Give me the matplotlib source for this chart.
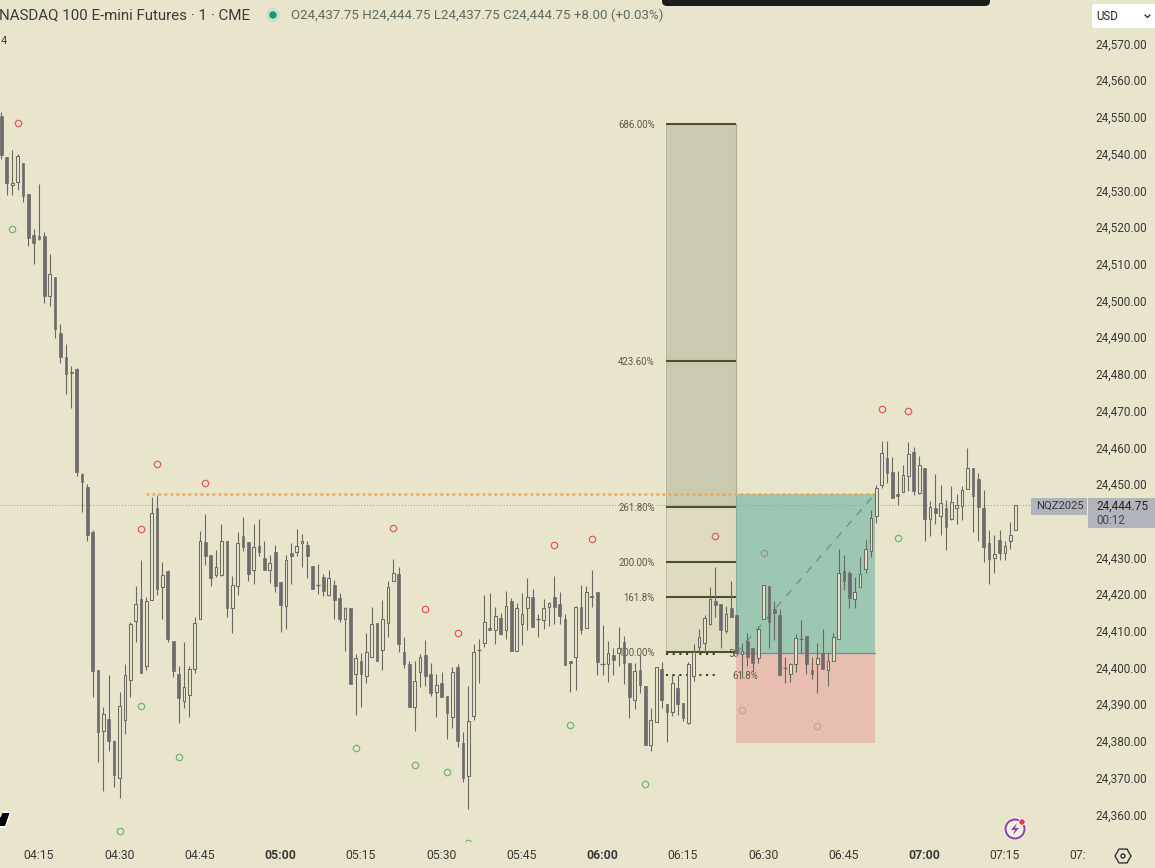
import numpy as np
import matplotlib
matplotlib.use('Agg')
import matplotlib.pyplot as plt
from matplotlib.patches import Rectangle, FancyBboxPatch, Circle, Polygon, RegularPolygon

BG = '#e9e4cc'
plt.rcParams['font.family'] = ['Roboto', 'DejaVu Sans']

BASE = 24000
START_MIN = 248  # first candle is 04:08

opens = [550.75,539.5,531.75,532.75,537.75,529.5,518.25,518,518,501.5,506.75,491.5,485,481,481.75,453.25,449.5,437.25,399.75,383,
         386.5,380.5,370.25,386.25,397,413,419,400.75,418.75,443.75,422.25,426.75,407.75,398.75,391.25,393,400,413.75,434.5,431,
         425.5,425.5,435,416.75,422.5,436.25,434.5,427,433.5,430.25,427,431.75,423.75,417.25,431.5,431.75,434.25,433.75,428,423,
         425,420.25,423,419.25,413.5,416.75,398.75,402.25,398,403.25,412.5,405.25,412.5,424,426,404.75,401.25,389.75,399.25,403.75,
         398.75,393.75,396.25,392.75,387,400.5,379.75,370.75,387.25,405.25,407,411.25,410.75,414,410.75,418.5,405,412.25,416.5,419.75,
         413.5,413.25,417,419.5,417.75,413.5,402.25,403.25,417,411.25,419.5,421,401.25,401.25,403.75,404.5,407.25,401.75,391.5,399.75,
         395.25,379.25,385.5,400,390.5,388.25,394.75,390.75,385.25,398,406,407,412.25,418.5,417.75,410.25,416.75,414.75,404,407.75,
         405.75,403,413.75,422.5,416.25,414.75,400.25,398.75,401.25,408.25,409,399.75,401.5,404.5,399.75,402.25,408.25,426.75,426.25,419,
         422.25,427.25,432.25,441.75,450,457.5,453.75,447.75,448.25,452.5,459.25,448,454.75,440.75,443.75,441.75,443.75,441,444,444.5,
         449,454.75,451.75,444,434.25,430.25,435.25,431.5,434.75,437.75]
highs = [551.75,539.5,541.5,540.25,537.75,529.5,520,532.25,519,513,506.75,494,488.5,482.5,482,453.5,450.5,438,399.75,389.75,
         398.25,380.75,393.75,401.25,412.75,422.5,429.75,419.75,446.75,447.5,429.25,427,407.75,400.75,407.25,400.75,414.25,437.5,442.25,431,
         432.5,439.5,435,425.25,437.25,441.5,434.5,439.5,440.75,434.75,431,433.75,423.75,431,434.25,438.25,436.75,434.75,428,428.5,
         426,427,424.25,420.75,417,416.75,404,404.5,409.75,417,412.5,418.75,424,430,427.75,408.75,402.25,402.25,404,408,
         401.75,398.75,399.25,392.75,400.5,401.25,382.75,395.5,406.75,408.25,420.25,420.75,417,415.25,421.25,419.25,418,420.75,424.75,421.75,
         415,419,418.25,425.25,421,415,402.25,417.25,423,422.75,427,421,412,407.75,405.75,411.5,409,401.75,401.75,403.75,
         395.25,389.25,400.5,402,390.5,398.75,398.25,390.75,402,406.75,411,414.75,422.25,427.75,417.75,417.25,424,414.75,407,409.75,
         405.75,411.5,423,422.5,418.5,416.25,403.25,401.75,409.5,413.25,409,403.25,407,411,404.5,409.75,432.75,431,426.75,425,
         430.5,435.25,443.25,450.25,462.25,462.25,457.75,454,455.5,461.75,460.5,458,454.75,445.75,453.25,450.25,446,449.75,447.75,449.75,
         460.25,454.75,453.5,448.75,438,436.5,438,434.75,440,444.75]
lows = [539,529,529,530.5,527.25,515.25,510.25,516.75,499.75,499,490.25,483.5,475,471,452.5,442.75,435,392.25,374.75,366.75,
        377.75,367.75,365,382.25,392.25,407.5,399,399.75,418.75,420.25,413.75,407.5,397.75,385.25,389.5,387,399,413.75,428.25,422.75,
        425,425.25,414.25,409.75,420.25,432.25,424,423.25,430.75,427,423.5,421,410,411,423.25,430.75,427.75,424.75,421.75,420.5,
        420,420,413.75,412.75,405,396,387.5,389.75,396.25,403.25,402.25,399.75,408.75,424,404.75,400.25,389.75,383,395,395.5,
        392.75,387,392.5,381,384,378.75,369.25,361.75,386.25,396.25,406,410.75,406.75,409.25,408.25,405,405,406.5,410.75,411.5,
        408.75,411,411.75,412.25,412.25,401,393.75,394.25,409.5,411.25,417,398.25,398.25,396.5,398.25,400.75,396,386.75,389,393.5,
        379.25,377.75,385.5,389.25,380.25,387.25,387.5,385.75,385,396.75,404.75,404.75,412,414.25,405.75,409.75,414.25,403.75,397.5,400.75,
        399.5,401.75,413.75,405.75,408,398.5,396.25,396.5,399.25,404.5,398.75,397.25,393.5,400,395.25,402.25,408.25,421.5,416.5,416.75,
        422.25,426.25,430.5,439.75,449.25,450.75,446.5,444.75,448.25,448.5,447.5,447.75,434.75,436.25,439.5,436.5,432.5,440.5,439.5,440.5,
        449,437.25,434.75,429.25,423.25,426.25,429.75,429.75,432.75,437.75]
closes = [540,532.5,532.5,539.75,528.75,517.5,516,517.25,501.75,507.5,492.75,485,480.5,480.75,453.75,451,436.5,399.5,382.75,387.75,
          380.5,371,390,398.5,412.25,417.75,399,418.5,442.5,421.75,425.5,408.25,399.5,392,395,400,412.5,434.75,430.75,424.75,
          427.75,435,416.5,423,434.25,433.25,426,433.25,432,427,428.75,422.5,417.5,429.75,430.75,433.5,435,430.75,421.75,423,
          421.25,424.75,418.75,413.75,416.5,396,403,398.75,404.75,412.25,402.25,413.75,422.25,426.25,406.75,401.25,389.75,396.75,403.25,398,
          393.5,395.75,392.5,388,399.25,380.5,370.25,385.75,404.75,405.25,412.75,410.75,414.5,409.5,417.25,405,416.5,415,419.5,411.5,
          413.5,416.5,418,417,414.5,401,401.75,417,410.75,421,420,402,401.25,404.25,402.5,405.75,401.75,392.25,399.5,395.75,
          379.25,386.25,400.5,391.5,388.25,396.25,390.5,386.75,401.25,404.75,408.75,414,419,417.5,410.75,415,414.25,404.25,405,403.25,
          401.75,411,423,412.75,415.25,398.5,400.25,401.25,408.5,408.25,401.25,398.75,403,400,402.25,408.75,426.25,424,419.25,421,
          426,432.75,441.25,449.25,458.75,453.5,446.5,447,452.75,458.5,448.5,455.5,441,444.25,442.5,445.25,438.75,445.5,444.75,448.75,
          454.75,447.25,444.25,433.25,430,431.25,431.5,433.5,436.5,444.75]

red_times = [251, 277, 286, 274, 321, 351, 358, 327, 333, 381, 390, 412, 417]
red_prices = [548.75, 455.85, 450.7, 438.15, 438.4, 433.8, 435.4, 416.35, 409.8, 436.25, 431.6, 470.85, 470.3]
green_times = [250, 274, 281, 270, 314, 325, 331, 354, 368, 335, 386, 400, 415]
green_prices = [519.85, 389.95, 376.05, 355.9, 378.5, 373.85, 371.95, 384.75, 368.7, 352.6, 388.85, 384.5, 435.7]

fib_levels = [548.5, 484, 444.25, 429.25, 419.75, 404.75]
fib_labels = ['686.00%', '423.60%', '261.80%', '200.00%', '161.8%', '100.00%']
price_ticks = [570, 560, 550, 540, 530, 520, 510, 500, 490, 480, 470, 460, 450, 430, 420, 410, 400, 390, 380, 370, 360]
time_ticks = [255, 270, 285, 300, 315, 330, 345, 360, 375, 390, 405, 420, 435]
time_labels = ['04:15', '04:30', '04:45', '05:00', '05:15', '05:30', '05:45', '06:00', '06:15', '06:30', '06:45', '07:00', '07:15']
bold_times = ['05:00', '06:00', '07:00']

target, entry, stop = 447.75, 404.25, 379.75
last_price = 444.75

opens = BASE + np.array(opens)
highs = BASE + np.array(highs)
lows = BASE + np.array(lows)
closes = BASE + np.array(closes)
times = START_MIN + np.arange(len(opens))

fig = plt.figure(figsize=(11.55, 8.68), dpi=100, facecolor=BG)
ax = fig.add_axes([0, 0, 1, 1], facecolor=BG)
ax.set_xlim(247.73, 462.94)
ax.set_ylim(24345.8, 24582.25)
ax.set_xticks([])
ax.set_yticks([])
for s in ax.spines.values():
    s.set_visible(False)

# fib tool
fib_l, fib_r, fib_stub = 371.8, 384.9, 381.1
b = BASE
ax.fill_between([fib_l, fib_r], b + fib_levels[2], b + fib_levels[0], color='#cbc9af', lw=0, zorder=1)
ax.fill_between([fib_l, fib_r], b + fib_levels[5], b + fib_levels[2], color='#dedbc0', lw=0, zorder=1)
ax.plot([fib_r, fib_r], [b + fib_levels[5], b + fib_levels[0]], color='#a9ad8c', lw=0.8, zorder=1)
ax.plot([fib_l, fib_l], [b + fib_levels[5], b + fib_levels[0]], color='#b5b79a', lw=0.6, zorder=1)
for lev, lab in zip(fib_levels, fib_labels):
    ax.plot([fib_l, fib_r], [b + lev, b + lev], color='#4d5029', lw=1.5, zorder=5, solid_capstyle='butt')
    ax.text(fib_l - 2.1, b + lev - 0.4, lab, ha='right', va='center', fontsize=6.9, color='#5a5a48', zorder=5)
ax.plot([fib_l, fib_stub], [b + 404.1, b + 404.1], color='#3e4122', lw=1.5, ls=(0, (1, 2.2)), zorder=5)
ax.plot([fib_l, fib_stub], [b + 398.4, b + 398.4], color='#3e4122', lw=1.5, ls=(0, (1, 2.2)), zorder=5)
ax.text(386.5, b + 398.2, '61.8%', ha='center', va='center', fontsize=6.9, color='#5a5a48', zorder=5)
ax.text(384.5, b + 404.0, '50', ha='center', va='center', fontsize=6.9, color='#5a5a48', zorder=3)

# swing markers, sit under the position zones
ax.plot(red_times, b + np.array(red_prices), ls='none', marker='o', ms=4.6, mfc='none', mec='#e5404f', mew=0.9, alpha=0.85, zorder=2)
ax.plot(green_times, b + np.array(green_prices), ls='none', marker='o', ms=4.6, mfc='none', mec='#58b25f', mew=0.9, alpha=0.85, zorder=2)

# long position
pos_l, pos_r = 384.9, 410.8
ax.fill_between([pos_l, pos_r], b + entry, b + target, color='#69b5a1', alpha=0.6, lw=0, zorder=3)
ax.fill_between([pos_l, pos_r], b + stop, b + entry, color='#e7a69d', alpha=0.6, lw=0, zorder=3)
ax.plot([pos_l, pos_r], [b + entry, b + entry], color='#7d8a80', lw=0.9, zorder=3)
ax.plot([pos_l, pos_r], [b + entry, b + target], color='#6f9c8a', lw=1.1, ls=(0, (5, 5)), zorder=3)

# lines
ax.plot([274.9, pos_r], [b + target, b + target], color='#f0a64a', lw=1.8, ls=(0, (1.1, 1.3)), zorder=4, dash_capstyle='butt')
ax.plot([times[0] - 1, 443.8], [b + last_price] * 2, color='#9c9c8c', lw=0.7, ls=(0, (1, 2)), zorder=1)

# candles
wick = '#6a6a64'
up = closes > opens
flat = closes == opens
ax.vlines(times, lows, highs, color=wick, lw=0.8, zorder=6)
body_low = np.minimum(opens, closes)
body_h = np.abs(closes - opens)
ax.bar(times[~up], body_h[~up], bottom=body_low[~up], width=0.5, color='#6c6c6c', edgecolor='#6c6c6c', lw=0.5, zorder=7)
ax.bar(times[up], body_h[up], bottom=body_low[up], width=0.5, color=BG, edgecolor='#6c6c64', lw=0.75, zorder=7)
ax.hlines(closes[flat], times[flat] - 0.4, times[flat] + 0.4, color=wick, lw=0.9, zorder=7)

# price axis labels
for p in price_ticks:
    ax.text(1147 / 1155, b + p, f'{BASE + p:,}.00', transform=ax.get_yaxis_transform(),
            ha='right', va='center', fontsize=8.5, color='#3a3a3a', zorder=9)

# screen chrome, in pixels
ui = fig.add_axes([0, 0, 1, 1], facecolor='none')
ui.set_xlim(0, 1155)
ui.set_ylim(868, 0)
ui.axis('off')
ui.add_patch(Rectangle((0, 842), 1155, 26, color=BG, lw=0, zorder=1))
ui.add_patch(FancyBboxPatch((665, -12), 322, 15, boxstyle='round,pad=3,rounding_size=5', fc='#1c1c1c', ec='none', zorder=3))
for t, lab in zip(time_ticks, time_labels):
    ui.text(39 + (t - 255) * 5.367, 855.5, lab, ha='center', va='center', fontsize=8.8, color='#3a3a3a', zorder=4,
            fontweight='bold' if lab in bold_times else 'normal')
ui.text(1078, 855.5, '07:', ha='center', va='center', fontsize=8.8, color='#3a3a3a', zorder=4)
ui.text(-1, 15, 'NASDAQ 100 E-mini Futures · 1 · CME', ha='left', va='center', fontsize=10.9, color='#3c3c3c')
ui.add_patch(Circle((273, 15), 7, color='#cfe0c8', lw=0))
ui.add_patch(Circle((273, 15), 3.7, color='#0e9a7e', lw=0))
ui.text(291, 15, 'O24,437.75 H24,444.75 L24,437.75 C24,444.75 +8.00 (+0.03%)', ha='left', va='center', fontsize=9.6, color='#5d6b62')
ui.text(4, 41, '4', ha='center', va='center', fontsize=8, color='#3c3c3c')

ui.add_patch(FancyBboxPatch((1094, 6), 64, 20, boxstyle='round,pad=2,rounding_size=3', fc='white', ec='none', zorder=3))
ui.text(1096, 16, 'USD', ha='left', va='center', fontsize=8.3, color='#222222', zorder=4)
ui.plot([1145, 1147.5, 1150], [15, 17.5, 15], color='#222222', lw=0.9, zorder=4)

# price labels on the right
ui.add_patch(Rectangle((1088, 498), 67, 30, color='#b2b4bc', lw=0, zorder=3))
ui.add_patch(Rectangle((1031, 498), 56, 17, color='#b2b4bc', lw=0, zorder=3))
ui.text(1059.5, 506, 'NQZ2025', ha='center', va='center', fontsize=8.1, color='#33363d', zorder=4)
ui.text(1096, 506, '24,444.75', ha='left', va='center', fontsize=8.5, color='#222222', zorder=4)
ui.text(1096, 520, '00:12', ha='left', va='center', fontsize=8.4, color='#44474e', zorder=4)

# logo stub bottom left
ui.add_patch(Polygon([(-2, 811), (11.5, 811), (6, 828), (-2, 828)], fc='white', ec='none', zorder=3))
ui.add_patch(Polygon([(-2, 813), (9.5, 813), (5, 826), (-2, 826)], fc='black', ec='none', zorder=4))
ui.add_patch(Polygon([(-1, 811), (3, 811), (1, 817), (-1, 817)], fc=BG, ec='none', zorder=5))

# bolt badge
ui.add_patch(Circle((1015, 829), 12, fc='#f0ecdc', ec='none', zorder=3))
ui.add_patch(Circle((1015, 829), 9.5, fc='#f4eee4', ec='#8d3fb0', lw=1.4, zorder=4))
ui.add_patch(Polygon([(1017, 823), (1011, 830), (1015, 830), (1013, 835), (1019, 828), (1015, 828)], fc='#8d3fb0', ec='none', zorder=5))
ui.add_patch(Circle((1022, 822), 3.2, fc='#e63c50', ec='white', lw=0.6, zorder=6))

# settings hexagon
ui.add_patch(RegularPolygon((1123, 856), 6, radius=8, orientation=np.pi / 6, fc='none', ec='#333333', lw=1.0, zorder=4))
ui.add_patch(Circle((1123, 856), 2, fc='none', ec='#333333', lw=1.0, zorder=4))

fig.savefig('out.png', dpi=100, facecolor=BG)
